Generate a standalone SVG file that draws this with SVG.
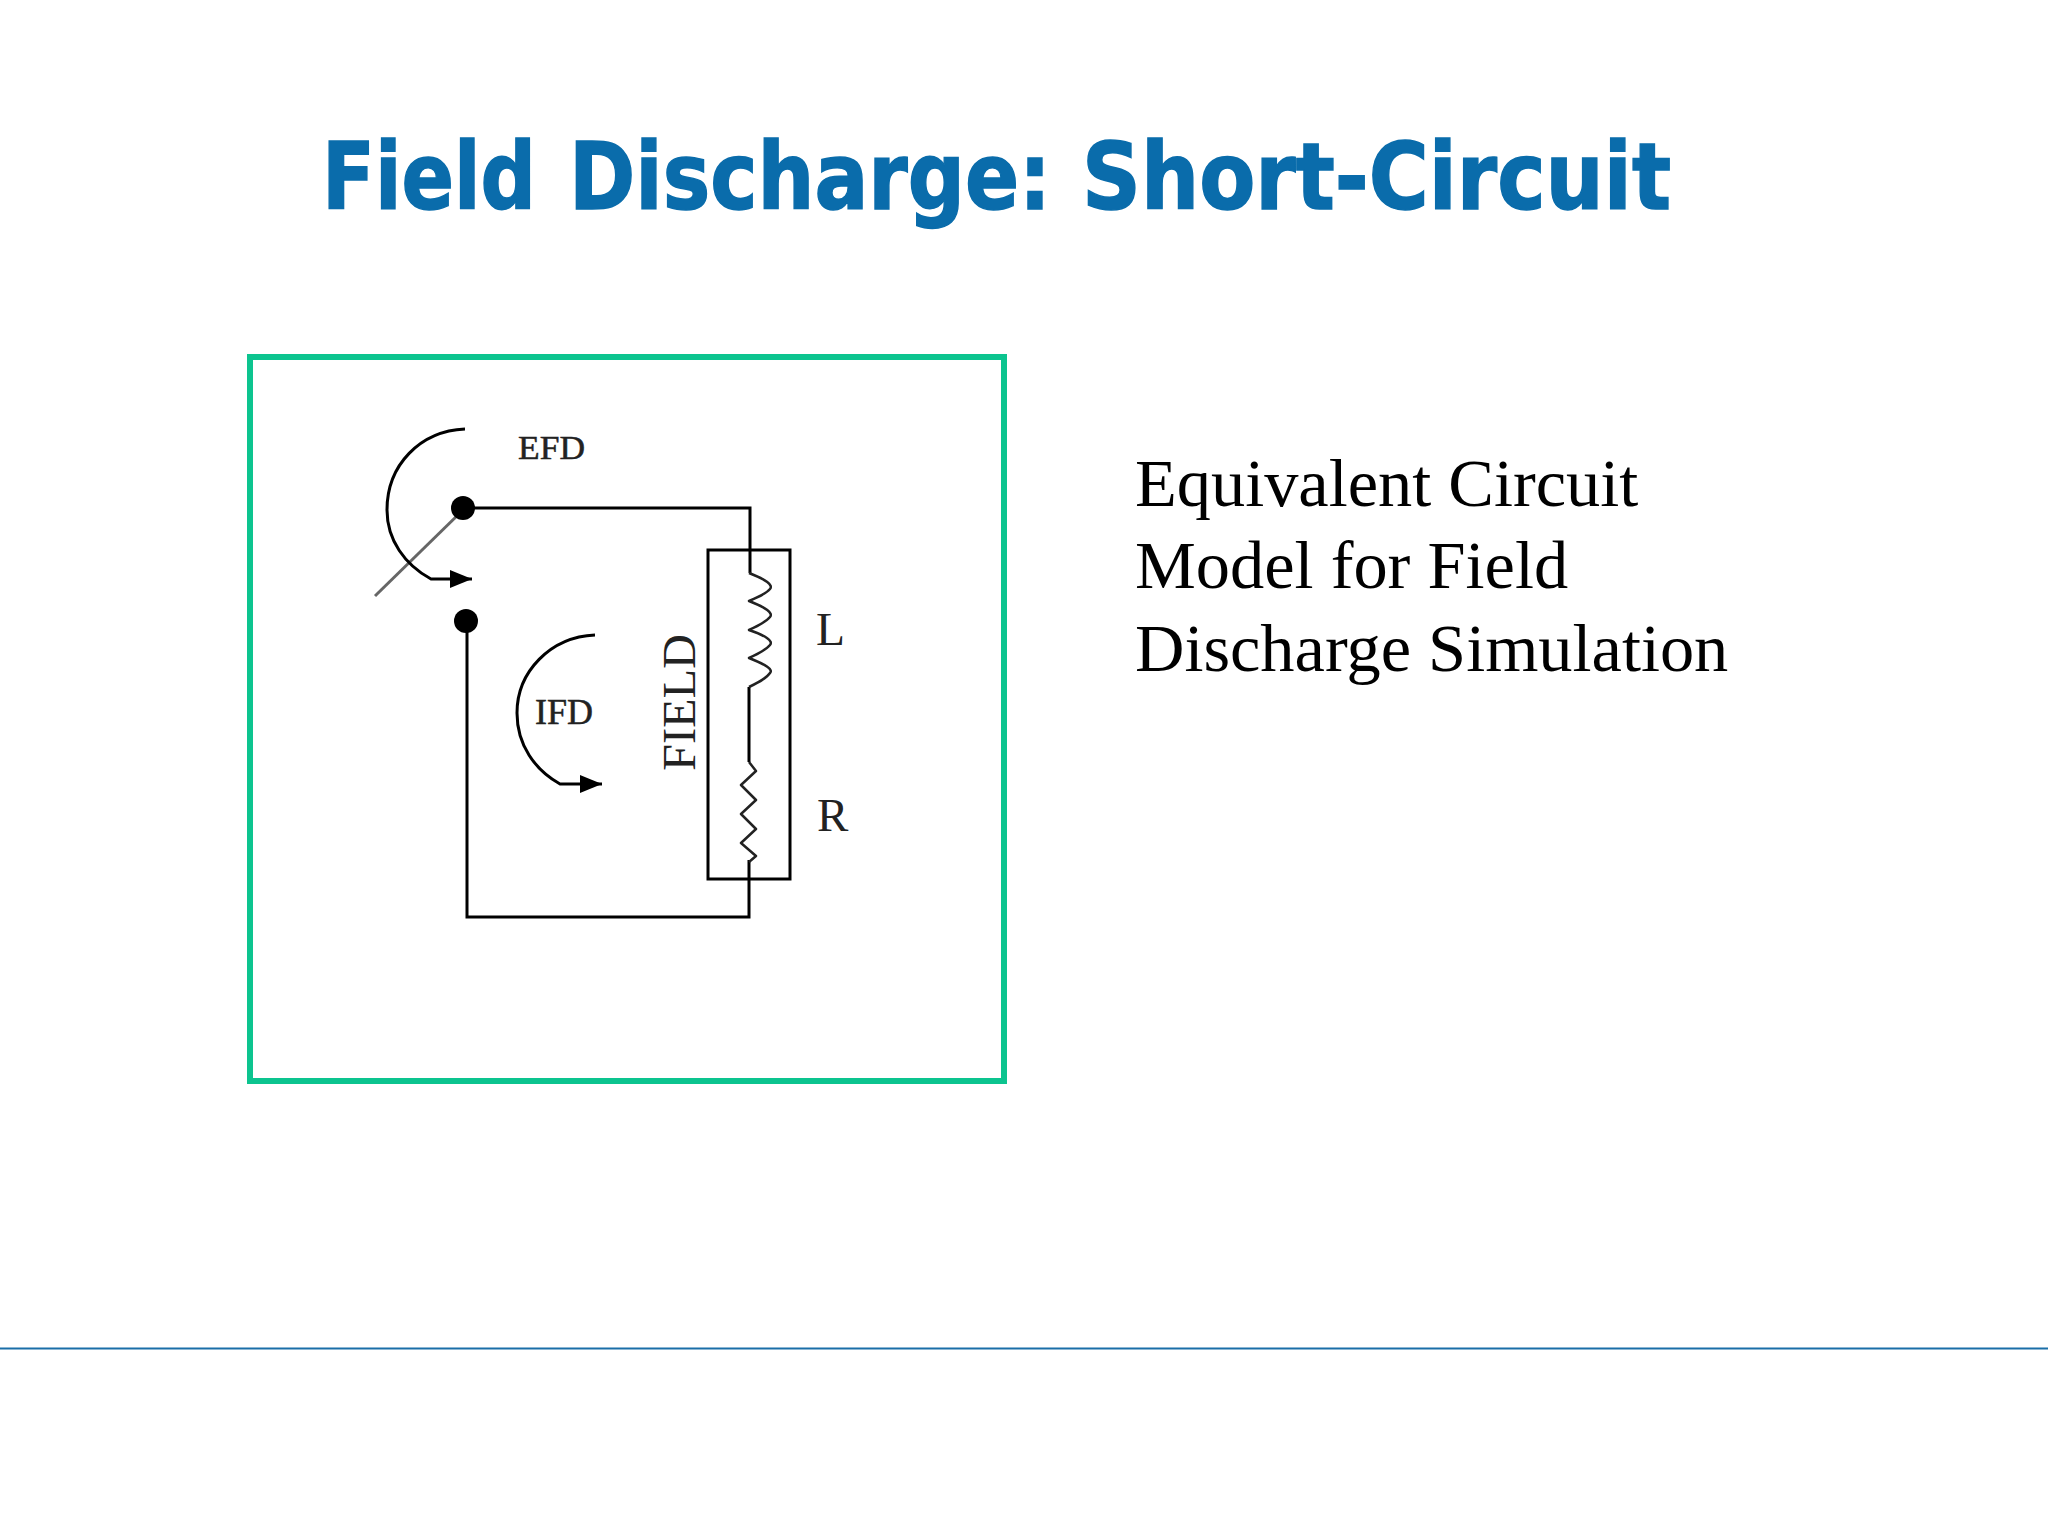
<svg xmlns="http://www.w3.org/2000/svg" width="2048" height="1534" viewBox="0 0 2048 1534">
<style>
.w{fill:none;stroke:#000;stroke-width:3}
.t{stroke-width:2.5;stroke:#222;stroke-linejoin:round}
.s{font-family:"Liberation Serif",serif;fill:#222}
.b{font-family:"Liberation Serif",serif;font-size:68.4px;fill:#000}
</style>
<defs><marker id="a" markerUnits="userSpaceOnUse" markerWidth="24" markerHeight="18" refX="22" refY="9" orient="auto"><path d="M0 0L22 9L0 18Z" fill="#000"/></marker></defs>
<rect width="2048" height="1534" fill="#fff"/>
<g id="title"><text y="209" font-family="'DejaVu Sans',sans-serif" font-weight="700" font-size="92" fill="#0a6cab" stroke="#0a6cab" stroke-width="1.5"><tspan x="322" textLength="214" lengthAdjust="spacingAndGlyphs">Field</tspan> <tspan x="569" textLength="482" lengthAdjust="spacingAndGlyphs">Discharge:</tspan> <tspan x="1082" textLength="589" lengthAdjust="spacingAndGlyphs">Short-Circuit</tspan></text></g>
<g id="frame"><rect x="250" y="357" width="754" height="724" fill="none" stroke="#0cc48f" stroke-width="6"/></g>
<g id="connectors">
<path class="w" d="M463 508H750V573M749 687V762M749 860V917H467V620"/>
<path fill="none" stroke="#666" stroke-width="3" d="M375 596L463 510"/>
<path class="w" d="M465 429C420 431 387 465 387 510C387 540 405 565 431 579H472" marker-end="url(#a)"/>
<path class="w" d="M595 635C550 637 517 672 517 713C517 745 535 770 560 784H602" marker-end="url(#a)"/>
</g>
<g id="efd-terminal"><circle cx="463" cy="508" r="12"/></g>
<g id="lower-terminal"><circle cx="466" cy="621" r="12"/></g>
<g id="field"><rect class="w" x="708" y="550" width="82" height="329"/></g>
<g id="inductor"><path class="w t" d="M749 573Q775 583 770 589Q766 594 749 601Q775 611 770 617Q766 622 749 630Q775 639 770 645Q766 650 749 658Q775 668 770 673Q766 679 749 687"/></g>
<g id="resistor"><path class="w t" d="M749 762L756 771L741 785L756 800L741 814L756 829L741 843L756 856L749 862"/></g>
<g id="labels">
<text class="s" x="518" y="459" font-size="34" textLength="67" lengthAdjust="spacingAndGlyphs" stroke="#222" stroke-width=".5">EFD</text>
<text class="s" x="535" y="724" font-size="36" textLength="58" lengthAdjust="spacingAndGlyphs" stroke="#222" stroke-width=".5">IFD</text>
<text class="s" x="816" y="645" font-size="47" textLength="29" lengthAdjust="spacingAndGlyphs">L</text>
<text class="s" x="817" y="831" font-size="47">R</text>
<text class="s" transform="translate(695 771) rotate(-90)" font-size="46" textLength="137" lengthAdjust="spacingAndGlyphs">FIELD</text>
</g>
<g id="description">
<text class="b" x="1135" y="506">Equivalent Circuit</text>
<text class="b" x="1135" y="588">Model for Field</text>
<text class="b" x="1135" y="671">Discharge Simulation</text>
</g>
<g id="rule"><path d="M0 1348.5H2048" stroke="#1a6ea8" stroke-width="2"/></g>
</svg>
